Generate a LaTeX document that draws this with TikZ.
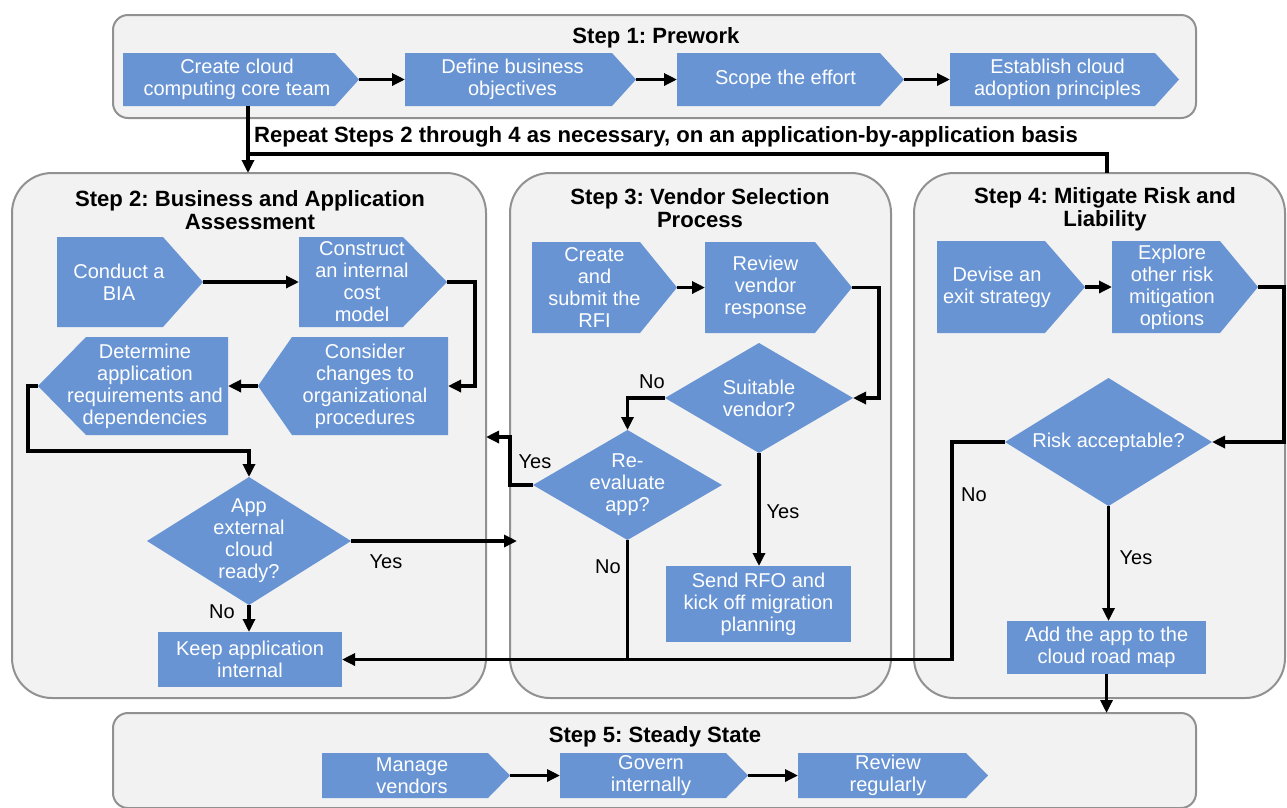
\documentclass[tikz,border=0pt]{standalone}
\usepackage{fontspec}
\setmainfont{Liberation Sans}
\usetikzlibrary{arrows.meta}
\definecolor{chev}{RGB}{104,148,212}
\definecolor{panel}{RGB}{242,242,242}
\definecolor{rim}{RGB}{145,145,145}
\frenchspacing

\begin{document}
\begin{tikzpicture}[x=1pt,y=-1pt,
  panelbox/.style={draw=rim, fill=panel, line width=2pt, inner sep=0pt, outer sep=0pt},
  steptitle/.style={font=\fontsize{22.1}{23}\selectfont\bfseries, align=center, inner sep=0pt},
  shtext/.style={text=white, font=\fontsize{20}{22}\selectfont, align=center, inner sep=0pt},
  shapebase/.style={inner sep=0pt, outer sep=0pt},
  chevR/.style={shapebase, path picture={\fill[chev]
      (path picture bounding box.north west)
      -- ([xshift=-#1]path picture bounding box.north east)
      -- (path picture bounding box.east)
      -- ([xshift=-#1]path picture bounding box.south east)
      -- (path picture bounding box.south west) -- cycle;}},
  chevL/.style={shapebase, path picture={\fill[chev]
      (path picture bounding box.north east)
      -- ([xshift=#1]path picture bounding box.north west)
      -- (path picture bounding box.west)
      -- ([xshift=#1]path picture bounding box.south west)
      -- (path picture bounding box.south east) -- cycle;}},
  dia/.style={shapebase, shtext, path picture={\fill[chev]
      (path picture bounding box.north) -- (path picture bounding box.east)
      -- (path picture bounding box.south) -- (path picture bounding box.west) -- cycle;}},
  rectbox/.style={shapebase, shtext, fill=chev},
  ln/.style={line width=3.2pt},
  arr/.style={ln, -{Triangle[length=13pt,width=12pt]}},
  yn/.style={font=\fontsize{20}{22}\selectfont, inner sep=0pt},
]
\clip (0,0) rectangle (1287,807);
\fill[white] (0,0) rectangle (1287,807);

% ---------- step panels ----------
\node[panelbox, rounded corners=15pt, minimum width=1083, minimum height=103] (b1) at (654.5,66.5) {};
\node[panelbox, rounded corners=40pt, minimum width=474, minimum height=525] (b2) at (249,435.5) {};
\node[panelbox, rounded corners=40pt, minimum width=381, minimum height=525] (b3) at (700.5,435.5) {};
\node[panelbox, rounded corners=40pt, minimum width=371, minimum height=525] (b4) at (1099.5,435.5) {};
\node[panelbox, rounded corners=15pt, minimum width=1083, minimum height=95] (b5) at (654.5,760.5) {};

% ---------- titles ----------
\node[steptitle] (t1) at (656,38) {Step 1: Prework};
\node[steptitle] (t2) at (250,210) {Step 2: Business and Application\\Assessment};
\node[steptitle] (t3) at (700,208) {Step 3: Vendor Selection\\Process};
\node[steptitle] (t4) at (1105,209) {Step 4: Mitigate Risk and\\Liability};
\node[steptitle] (t5) at (655,737) {Step 5: Steady State};
\node[steptitle, anchor=west] (rept) at (254,137)
  {Repeat Steps 2 through 4 as necessary, on an application-by-application basis};

% ---------- step 1 ----------
\node[chevR=24pt, minimum width=236, minimum height=53,
  label={[shtext,xshift=-4pt]center:{Create cloud\\computing core team}}] (p1) at (241,79.5) {};
\node[chevR=24pt, minimum width=231, minimum height=53,
  label={[shtext,xshift=-8pt]center:{Define business\\objectives}}] (p2) at (520.5,79.5) {};
\node[chevR=24pt, minimum width=227, minimum height=53,
  label={[shtext,xshift=-5pt]center:{Scope the effort}}] (p3) at (790.5,79.5) {};
\node[chevR=24pt, minimum width=229, minimum height=53,
  label={[shtext,xshift=-7pt]center:{Establish cloud\\adoption principles}}] (p4) at (1064.5,79.5) {};

% ---------- step 2 ----------
\node[chevR=40pt, minimum width=146, minimum height=90,
  label={[shtext,xshift=-11pt]center:{Conduct a\\BIA}}] (bia) at (130,282) {};
\node[chevR=44pt, minimum width=148, minimum height=90,
  label={[shtext,xshift=-11pt]center:{Construct\\an internal\\cost\\model}}] (cost) at (373,282) {};
\node[chevL=34pt, minimum width=190, minimum height=98,
  label={[shtext,xshift=12pt]center:{Consider\\changes to\\organizational\\procedures}}] (proc) at (353,386) {};
\node[chevL=48pt, minimum width=190, minimum height=98,
  label={[shtext,xshift=12pt]center:{Determine\\application\\requirements and\\dependencies}}] (req) at (133,386) {};
\node[dia, minimum width=204, minimum height=128] (ready) at (249,541)
  {App\\external\\cloud\\ready?};
\node[rectbox, minimum width=184, minimum height=55] (keep) at (250,659.5)
  {Keep application\\internal};

% ---------- step 3 ----------
\node[chevR=37pt, minimum width=145, minimum height=91,
  label={[shtext,xshift=-10pt]center:{Create\\and\\submit the\\RFI}}] (rfi) at (604.5,287.5) {};
\node[chevR=37pt, minimum width=147, minimum height=91,
  label={[shtext,xshift=-13pt]center:{Review\\vendor\\response}}] (resp) at (778.5,287.5) {};
\node[dia, minimum width=188, minimum height=110] (suit) at (759,398)
  {Suitable\\vendor?};
\node[dia, minimum width=189, minimum height=110] (reeval) at (627.5,485)
  {Re-\\evaluate\\app?};
\node[rectbox, minimum width=185, minimum height=76] (rfo) at (758.5,604)
  {Send RFO and\\kick off migration\\planning};

% ---------- step 4 ----------
\node[chevR=40pt, minimum width=148, minimum height=92,
  label={[shtext,xshift=-14pt]center:{Devise an\\exit strategy}}] (exit) at (1011,287) {};
\node[chevR=38pt, minimum width=146, minimum height=92,
  label={[shtext,xshift=-13pt]center:{Explore\\other risk\\mitigation\\options}}] (mitig) at (1185,287) {};
\node[dia, minimum width=207, minimum height=128] (risk) at (1108.5,442)
  {Risk acceptable?};
\node[rectbox, minimum width=199, minimum height=53] (road) at (1106.5,647.5)
  {Add the app to the\\cloud road map};

% ---------- step 5 ----------
\node[chevR=22pt, minimum width=188, minimum height=45,
  label={[shtext,xshift=-4pt]center:{Manage\\vendors}}] (m1) at (416,775.5) {};
\node[chevR=22pt, minimum width=188, minimum height=45,
  label={[shtext,xshift=-3pt]center:{Govern\\internally}}] (m2) at (654,775.5) {};
\node[chevR=22pt, minimum width=190, minimum height=45,
  label={[shtext,xshift=-5pt]center:{Review\\regularly}}] (m3) at (893,775.5) {};

% ---------- connectors ----------
\coordinate (rep) at (248,154);
\coordinate (j4) at (1107,154);
\coordinate (nx) at (952,0);
\coordinate (yx) at (510,437);

\draw[arr] (p1) -- (p2);
\draw[arr] (p2) -- (p3);
\draw[arr] (p3) -- (p4);
\draw[arr] (p1.south -| rep) -- (rep |- b2.north);
\draw[ln] (rep) -- (j4) -- (j4 |- b4.north);

\draw[arr] (bia.east) -- (cost.west);
\draw[arr] (cost.east) -- ++(28,0) |- (proc.east);
\draw[arr] (proc.west) -- (req.east);
\draw[arr] (req.west) -- ++(-10,0) |- ([yshift=26pt]ready.north) -- (ready.north);
\draw[arr] (ready.east) -- ([xshift=7pt]ready.east -| b3.west);
\draw[arr] (ready.south) -- (ready.south |- keep.north);

\draw[arr] (rfi.east) -- (resp.west);
\draw[arr] (resp.east) -- ++(27,0) |- (suit.east);
\draw[arr] (suit.west) -| (reeval.north);
\draw[arr] (suit.south) -- (suit.south |- rfo.north);
\draw[arr] (reeval.west) -| (yx) -- (yx -| b2.east);
\draw[ln] (reeval.south) -- (reeval.south |- keep.east);

\draw[arr] (exit.east) -- (mitig.west);
\draw[arr] (mitig.east) -- ++(26,0) |- (risk.east);
\draw[arr] (risk.west) -- (risk.west -| nx) |- (keep.east);
\draw[arr] (risk.south) -- (risk.south |- road.north);
\draw[arr] (road.south) -- (road.south |- b5.north);

\draw[arr] (m1) -- (m2);
\draw[arr] (m2) -- (m3);

% ---------- branch labels ----------
\node[yn] (l1) at (386,562) {Yes};
\node[yn] (l2) at (222,612) {No};
\node[yn] (l3) at (652,382) {No};
\node[yn] (l4) at (535,462) {Yes};
\node[yn] (l5) at (608,567) {No};
\node[yn] (l6) at (783,512) {Yes};
\node[yn] (l7) at (974,495) {No};
\node[yn] (l8) at (1136,558) {Yes};
\end{tikzpicture}
\end{document}
